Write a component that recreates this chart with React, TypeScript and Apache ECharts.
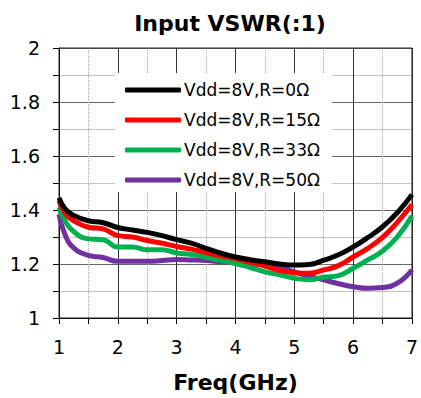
import React, { useEffect, useRef } from "react";
import * as echarts from "echarts";

const freq = [1, 1.1, 1.25, 1.5, 1.75, 2, 2.25, 2.5, 2.75, 3, 3.25, 3.5, 3.75, 4, 4.25, 4.5, 4.75, 5, 5.25, 5.5, 5.75, 6, 6.25, 6.5, 6.75, 7];
const r0 = [1.445, 1.405, 1.38, 1.36, 1.353, 1.335, 1.326, 1.317, 1.305, 1.29, 1.277, 1.258, 1.24, 1.226, 1.216, 1.208, 1.2, 1.196, 1.198, 1.214, 1.234, 1.263, 1.298, 1.338, 1.39, 1.457];
const r15 = [1.433, 1.39, 1.36, 1.336, 1.33, 1.305, 1.3, 1.287, 1.277, 1.265, 1.255, 1.242, 1.23, 1.22, 1.206, 1.192, 1.176, 1.168, 1.166, 1.178, 1.194, 1.226, 1.258, 1.299, 1.354, 1.42];
const r33 = [1.41, 1.36, 1.32, 1.293, 1.29, 1.263, 1.263, 1.253, 1.253, 1.241, 1.235, 1.225, 1.213, 1.202, 1.187, 1.171, 1.16, 1.147, 1.142, 1.151, 1.157, 1.184, 1.215, 1.248, 1.3, 1.378];
const r50 = [1.384, 1.31, 1.26, 1.232, 1.224, 1.21, 1.21, 1.21, 1.213, 1.217, 1.215, 1.213, 1.208, 1.204, 1.2, 1.196, 1.188, 1.171, 1.155, 1.141, 1.127, 1.116, 1.11, 1.113, 1.129, 1.178];
const seriesNames = ["Vdd=8V,R=0Ω", "Vdd=8V,R=15Ω", "Vdd=8V,R=33Ω", "Vdd=8V,R=50Ω"];
const colors = ["#000000", "#ff0000", "#00b050", "#7030a0"];

const FONT = "DejaVu Sans";

export default function App() {
  const ref = useRef<HTMLDivElement>(null);
  useEffect(() => {
    if (!ref.current) return;
    const chart = echarts.init(ref.current, null, { renderer: "svg" });
    const all = [r0, r15, r33, r50];
    chart.setOption({
      animation: false,
      title: {
        text: "Input VSWR(:1)",
        left: 225,
        textAlign: "center",
        top: 7,
        textStyle: { fontFamily: FONT, fontSize: 22, fontWeight: "bold", color: "#000" },
      },
      legend: {
        orient: "vertical",
        left: 115,
        top: 73,
        padding: [7, 12, 2, 10],
        backgroundColor: "#ffffff",
        itemWidth: 56,
        itemHeight: 5,
        itemGap: 10,
        icon: "roundRect",
        textStyle: { fontFamily: FONT, fontSize: 17, color: "#000", lineHeight: 20, padding: [0, 0, 0, -2] },
        data: seriesNames,
      },
      grid: {
        left: 59,
        right: 6,
        top: 48,
        bottom: 76,
        show: true,
        borderColor: "#222",
        borderWidth: 1,
        z: 3,
      },
      xAxis: {
        type: "value",
        min: 1,
        max: 7,
        interval: 1,
        name: "Freq(GHz)",
        nameLocation: "middle",
        nameGap: 53,
        nameTextStyle: { fontFamily: FONT, fontSize: 22, fontWeight: "bold", color: "#000" },
        axisLine: { show: true, onZero: false, lineStyle: { color: "#000", width: 1 } },
        axisTick: { show: true, length: 6, lineStyle: { color: "#000" } },
        minorTick: { show: true, splitNumber: 2, length: 6, lineStyle: { color: "#000" } },
        axisLabel: { fontFamily: FONT, fontSize: 19, color: "#000", margin: 19 },
        splitLine: { show: true, lineStyle: { color: "#333", width: 1 } },
        minorSplitLine: { show: true, lineStyle: { color: "#aaa", type: "dotted", width: 1 } },
      },
      yAxis: {
        type: "value",
        min: 1,
        max: 2,
        interval: 0.2,
        axisLine: { show: true, lineStyle: { color: "#000", width: 1 } },
        axisTick: { show: true, length: 6, lineStyle: { color: "#000" } },
        minorTick: { show: true, splitNumber: 2, length: 6, lineStyle: { color: "#000" } },
        axisLabel: { fontFamily: FONT, fontSize: 19, color: "#000", margin: 19 },
        splitLine: { show: true, lineStyle: { color: "#666", width: 1 } },
        minorSplitLine: { show: true, lineStyle: { color: "#c4c4c4", width: 1 } },
      },
      series: all.map((vals, i) => ({
        name: seriesNames[i],
        type: "line",
        smooth: true,
        showSymbol: false,
        symbol: "none",
        z: 10 - i,
        color: colors[i],
        lineStyle: { color: colors[i], width: 5 },
        data: freq.map((f, j) => [f, vals[j]]),
      })),
    });
    return () => chart.dispose();
  }, []);
  return <div ref={ref} style={{ width: 421, height: 398, position: "absolute", left: 0, top: 0 }} />;
}
